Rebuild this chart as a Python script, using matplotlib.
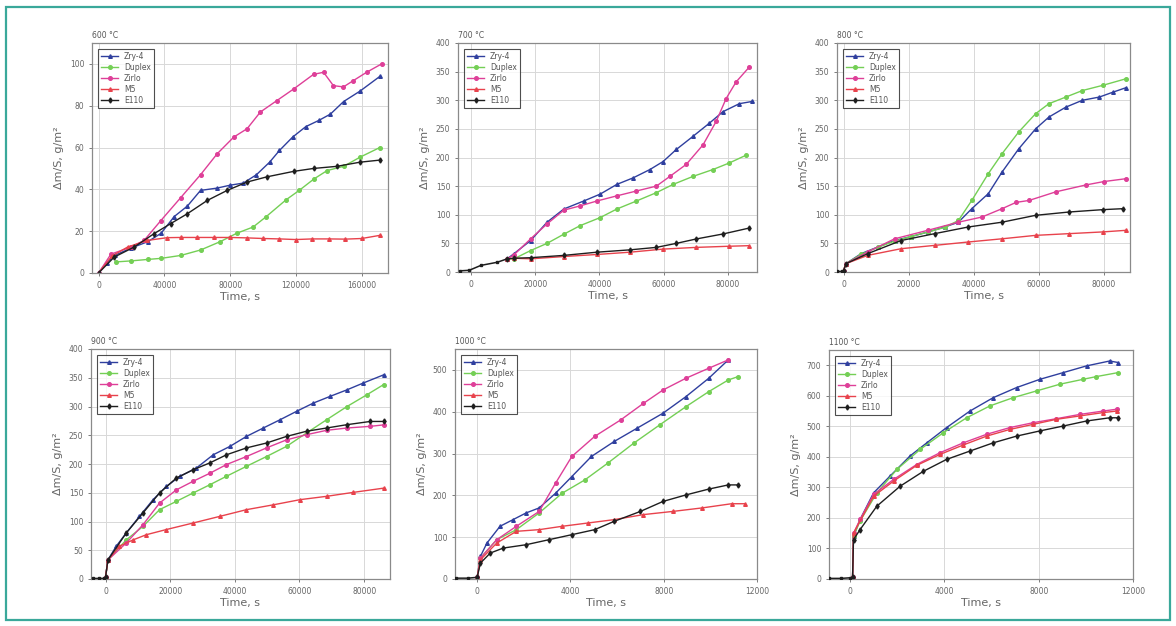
import matplotlib.pyplot as plt
from matplotlib.patches import Rectangle

# alloy names and styles
alloys = ['Zry-4', 'Duplex', 'Zirlo', 'M5', 'E110']
colors = ['#2f3f9e', '#74cf55', '#de3f98', '#e8424c', '#1e1e1e']
marks = ['^', 'o', 'o', '^', 'd']

# ---- 600 C ----
t600_zry = [0, 5000, 10000, 20000, 30000, 38000, 46000, 54000, 62000, 72000, 80000, 88000,
            96000, 104000, 110000, 118000, 126000, 134000, 141000, 149000, 159000, 171000]
v600_zry = [0, 5, 8.5, 12, 15, 19, 27, 32, 39.5, 40.6, 42, 43, 47, 53, 58.6, 65, 70, 73, 76, 82, 87, 94]
t600_dup = [10500, 20000, 30000, 38000, 50000, 62000, 74000, 84000, 94000, 102000, 114000,
            122000, 131000, 139000, 149000, 159000, 171000]
v600_dup = [5.3, 5.8, 6.5, 7, 8.4, 11, 15, 19, 22, 27, 35, 39.5, 45, 49, 51, 55.4, 60]
t600_zir = [0, 7500, 19600, 27700, 37800, 49900, 62000, 72100, 82200, 90300, 98400, 108500,
            118600, 130700, 136800, 142800, 148900, 154900, 163000, 172100]
v600_zir = [0, 9, 12.4, 15.6, 25, 36, 47, 57, 65, 69, 77, 82.5, 88, 95, 96, 89.6, 89, 92, 96, 100]
t600_m5 = [0, 8000, 17600, 29700, 41800, 50000, 60000, 70000, 80000, 90000, 100000, 110000,
           120000, 130000, 140000, 150000, 160000, 171000]
v600_m5 = [0, 8, 12.4, 15.6, 16.9, 17, 17, 17, 17, 16.8, 16.5, 16.3, 16, 16.3, 16.3, 16.2, 16.5, 18]
t600_e110 = [0, 9500, 21600, 33700, 43800, 53900, 66100, 78200, 90300, 102400, 118600, 130700,
             144800, 159000, 171100]
v600_e110 = [0, 7.6, 12.4, 18.8, 23.6, 28.3, 34.7, 39.5, 43.5, 46, 48.6, 50, 51, 53, 54]

# ---- 700 C ----
t700_pre = [-3500, -500, 3100, 8200, 11300]
v700_pre = [2, 3, 11.5, 17, 23]
t700_zry = [13400, 18600, 23700, 28900, 35100, 40200, 45400, 50500, 55700, 59800, 63900, 69100,
            74200, 78400, 83500, 87600]
v700_zry = [32, 55, 87, 110, 124, 136, 153, 164.5, 179, 193, 214, 237, 260, 280, 294, 298]
t700_dup = [13400, 18600, 23700, 28900, 34000, 40200, 45400, 51500, 57700, 62900, 69100, 75300,
            80400, 85600]
v700_dup = [23, 37.5, 50, 66, 81, 95, 110, 124, 138.6, 153, 167, 179, 190.5, 204]
t700_zir = [13400, 18600, 23700, 28900, 34000, 39200, 45400, 51500, 57700, 61900, 67000, 72200,
            76300, 79400, 82500, 86600]
v700_zir = [30, 58, 84, 108, 115.5, 124, 133, 141.5, 150, 167, 188, 222, 263, 303, 332, 358]
t700_m5 = [13400, 18600, 28900, 39200, 49500, 59800, 70100, 80400, 86600]
v700_m5 = [24, 23, 27, 30.6, 34.6, 40, 43, 45, 46]
t700_e110 = [13400, 18600, 28900, 39200, 49500, 57700, 63900, 70100, 78400, 86600]
v700_e110 = [24, 25, 29, 34.6, 38.7, 43, 50, 57.7, 66.4, 76.8]

# ---- 800 C ----
t800_pre = [-2000, -500, 0]
v800_pre = [1, 1, 2]
t800_zry = [720, 5400, 10500, 15700, 20800, 26000, 31100, 35300, 39400, 44500, 48700, 53800,
            59000, 63100, 68300, 73400, 78600, 82700, 86800]
v800_zry = [14.5, 32, 43.6, 55, 62, 70, 78.6, 87, 110.6, 137, 174.6, 215, 250, 270.7, 288, 300,
            305.6, 314, 322]
t800_dup = [720, 5400, 10500, 15700, 20800, 26000, 31100, 35300, 39400, 44500, 48700, 53800,
            59000, 63100, 68300, 73400, 79600, 86800]
v800_dup = [14.5, 31, 43, 54, 62, 70, 78, 90, 125, 172, 206.6, 244.5, 276.5, 294, 305.6, 317, 326, 337.6]
t800_zir = [720, 7400, 15700, 26000, 35300, 42500, 48700, 53000, 57000, 65200, 74400, 80000, 86800]
v800_zir = [14.5, 35, 58, 73, 87, 96, 110.6, 121.6, 125, 140, 152, 158, 163]
t800_m5 = [720, 7400, 17700, 28000, 38300, 48700, 59000, 69300, 79600, 86800]
v800_m5 = [14.5, 29, 40.7, 46.5, 52.4, 58, 64, 67, 70, 72.8]
t800_e110 = [720, 7400, 17700, 28000, 38300, 48700, 59000, 69300, 79600, 85800]
v800_e110 = [14.5, 32, 55, 67, 78.6, 87, 99, 104.8, 108.9, 110.6]

# ---- 900 C ----
t900_pre = [-4000, -2000, -500, 0]
v900_pre = [1, 1, 1, 3]
t900_zry = [720, 3300, 6400, 10500, 14700, 18800, 23000, 28100, 33300, 38500, 43600, 48800,
            54000, 59100, 64300, 69500, 74700, 79800, 86000]
v900_zry = [33, 57, 80, 109, 138, 161, 178.5, 193, 216, 230.7, 248, 262.6, 277, 291.6, 306,
            317.7, 329, 341, 355]
t900_dup = [720, 6400, 11600, 16700, 21900, 27100, 32300, 37400, 43600, 49800, 56000, 62200,
            68400, 74700, 80900, 86000]
v900_dup = [33, 68, 91.6, 120.6, 135, 149.6, 164, 178.6, 196, 213, 230.7, 254, 277, 300, 320.6, 338]
t900_zir = [720, 6400, 11600, 16700, 21900, 27100, 32300, 37400, 43600, 49800, 56000, 62200,
            68400, 74700, 81900, 86000]
v900_zir = [33, 62.6, 94.5, 132, 155, 170, 184, 199, 213, 228, 242, 251, 258.6, 262.6, 265.5, 268]
t900_m5 = [720, 4300, 8500, 12600, 18800, 27100, 35400, 43600, 51900, 60200, 68400, 76700, 86000]
v900_m5 = [33, 57, 68, 77, 86, 97.4, 109, 120.6, 129, 138, 143.8, 150.7, 158]
t900_e110 = [720, 6400, 11600, 16700, 21900, 27100, 32300, 37400, 43600, 49800, 56000, 62200,
             68400, 74700, 81900, 86000]
v900_e110 = [33, 80, 115, 149.6, 175.6, 190, 202, 216, 228, 236.5, 248, 257, 262.6, 268.4, 274, 274]

# ---- 1000 C ----
t1000_pre = [-900, -400, 0]
v1000_pre = [2, 2, 4]
t1000_zry = [140, 420, 980, 1540, 2100, 2660, 3360, 4060, 4900, 5880, 6860, 7970, 8950, 9930, 10770]
v1000_zry = [54, 86, 126, 142, 158, 170, 205, 245, 293, 329, 360.7, 396.5, 436, 480, 524]
t1000_dup = [140, 840, 1680, 2660, 3640, 4620, 5600, 6720, 7830, 8950, 9930, 10770, 11190]
v1000_dup = [50, 94, 118, 158, 205, 237, 277, 325, 368.6, 412, 448, 476, 484]
t1000_zir = [140, 840, 1680, 2660, 3360, 4060, 5040, 6160, 7130, 7970, 8950, 9930, 10770]
v1000_zir = [50, 94, 126, 161.6, 229, 293, 341, 380.6, 420, 452, 480, 504, 524]
t1000_m5 = [140, 840, 1680, 2660, 3640, 4760, 5880, 7130, 8390, 9650, 10910, 11470]
v1000_m5 = [46, 86, 114, 118, 126, 134, 142, 154, 161.6, 170, 180, 180]
t1000_e110 = [140, 560, 1120, 2100, 3080, 4060, 5040, 5880, 7000, 7970, 8950, 9930, 10770, 11190]
v1000_e110 = [38, 62, 74, 82, 94, 106, 118, 138, 161.6, 185.5, 201, 215, 225, 225]

# ---- 1100 C ----
t1100_pre = [-900, -400, 0, 100]
v1100_pre = [2, 2, 4, 6]
t1100_zry = [140, 420, 990, 1690, 2540, 3250, 4090, 5080, 6070, 7060, 8050, 9040, 10030, 11010, 11370]
v1100_zry = [140, 195, 282, 337, 403, 446, 496, 550, 594, 627, 654, 676, 698, 714, 709]
t1100_dup = [140, 420, 1130, 1980, 2970, 3950, 4940, 5930, 6920, 7910, 8900, 9880, 10450, 11370]
v1100_dup = [140, 190, 282, 359, 424.5, 479, 528, 567, 594, 616, 638, 654, 663, 676]
t1100_zir = [140, 420, 990, 1840, 2820, 3810, 4800, 5790, 6780, 7770, 8750, 9740, 10730, 11300]
v1100_zir = [150, 195, 277, 326, 375, 413.6, 446, 474, 496, 512, 525, 539, 550, 556]
t1100_m5 = [140, 990, 1840, 2820, 3810, 4800, 5790, 6780, 7770, 8750, 9740, 10730, 11300]
v1100_m5 = [150, 271, 320.6, 372, 408, 439, 468, 490, 506.6, 523, 534, 545, 550]
t1100_e110 = [140, 420, 1130, 2120, 3110, 4090, 5080, 6070, 7060, 8050, 9040, 10030, 11010, 11370]
v1100_e110 = [129, 162, 238.5, 304, 353, 391.7, 419, 446, 468, 485, 501, 517.5, 528, 528]

panels = [
    ('600 °C', None, [(t600_zry, v600_zry), (t600_dup, v600_dup), (t600_zir, v600_zir),
                      (t600_m5, v600_m5), (t600_e110, v600_e110)],
     (-4000, 176000), [0, 40000, 80000, 120000, 160000], (0, 110), [0, 20, 40, 60, 80, 100]),
    ('700 °C', (t700_pre, v700_pre), [(t700_zry, v700_zry), (t700_dup, v700_dup), (t700_zir, v700_zir),
                                      (t700_m5, v700_m5), (t700_e110, v700_e110)],
     (-4000, 89000), [0, 20000, 40000, 60000, 80000], (0, 400), list(range(0, 401, 50))),
    ('800 °C', (t800_pre, v800_pre), [(t800_zry, v800_zry), (t800_dup, v800_dup), (t800_zir, v800_zir),
                                      (t800_m5, v800_m5), (t800_e110, v800_e110)],
     (-2000, 88000), [0, 20000, 40000, 60000, 80000], (0, 400), list(range(0, 401, 50))),
    ('900 °C', (t900_pre, v900_pre), [(t900_zry, v900_zry), (t900_dup, v900_dup), (t900_zir, v900_zir),
                                      (t900_m5, v900_m5), (t900_e110, v900_e110)],
     (-4500, 88000), [0, 20000, 40000, 60000, 80000], (0, 400), list(range(0, 401, 50))),
    ('1000 °C', (t1000_pre, v1000_pre), [(t1000_zry, v1000_zry), (t1000_dup, v1000_dup),
                                         (t1000_zir, v1000_zir), (t1000_m5, v1000_m5),
                                         (t1000_e110, v1000_e110)],
     (-950, 12000), [0, 4000, 8000, 12000], (0, 550), [0, 100, 200, 300, 400, 500]),
    ('1100 °C', (t1100_pre, v1100_pre), [(t1100_zry, v1100_zry), (t1100_dup, v1100_dup),
                                         (t1100_zir, v1100_zir), (t1100_m5, v1100_m5),
                                         (t1100_e110, v1100_e110)],
     (-900, 12000), [0, 4000, 8000, 12000], (0, 750), list(range(0, 701, 100))),
]

# axes boxes in pixels: left, right, top, bottom
boxes = [(92, 388, 43, 273), (458, 757, 43, 272), (837, 1130, 43, 272),
         (91, 390, 349, 579), (455, 757, 349, 579), (829, 1133, 350, 579)]

W, H = 1176, 626
fig = plt.figure(figsize=(W / 100, H / 100), dpi=100)
fig.patches.append(Rectangle((6 / W, 6 / H), 1164 / W, 613 / H, transform=fig.transFigure,
                             fill=False, edgecolor='#3aa89a', linewidth=1.6))

gray = '#666666'
for (temp, pre, series, xl, xt, yl, yt), (l, r, t, b) in zip(panels, boxes):
    ax = fig.add_axes([l / W, (H - b) / H, (r - l) / W, (b - t) / H])
    if pre is not None:
        ax.plot(pre[0], pre[1], color='#1e1e1e', lw=1.1, marker='s', ms=2, zorder=3)
    for name, c, m, (tt, vv) in zip(alloys, colors, marks, series):
        if pre is not None:
            tt = [pre[0][-1]] + tt
            vv = [pre[1][-1]] + vv
        ax.plot(tt, vv, color=c, lw=1.0, marker=m, ms=2.6, label=name)
    ax.set_xlim(*xl)
    ax.set_ylim(*yl)
    ax.set_xticks(xt)
    ax.set_yticks(yt)
    ax.grid(True, color='#d8d8d8', lw=0.7)
    ax.tick_params(labelsize=5.5, colors=gray, length=2, width=0.6)
    for s in ax.spines.values():
        s.set_color('#8a8a8a')
        s.set_linewidth(0.9)
    ax.set_xlabel('Time, s', fontsize=8, color=gray, labelpad=2)
    ax.set_ylabel('Δm/S, g/m²', fontsize=8, color=gray, labelpad=4)
    ax.text(0.0, 1.015, temp, transform=ax.transAxes, fontsize=5.5, color='#555555', va='bottom')
    leg = ax.legend(loc='upper left', fontsize=5.5, frameon=True, fancybox=False,
                    borderpad=0.4, handlelength=2.2, labelspacing=0.25, borderaxespad=0.8)
    leg.get_frame().set_edgecolor('#222222')
    leg.get_frame().set_linewidth(0.8)
    for txt in leg.get_texts():
        txt.set_color('#555555')

fig.savefig('out.png', dpi=100)
